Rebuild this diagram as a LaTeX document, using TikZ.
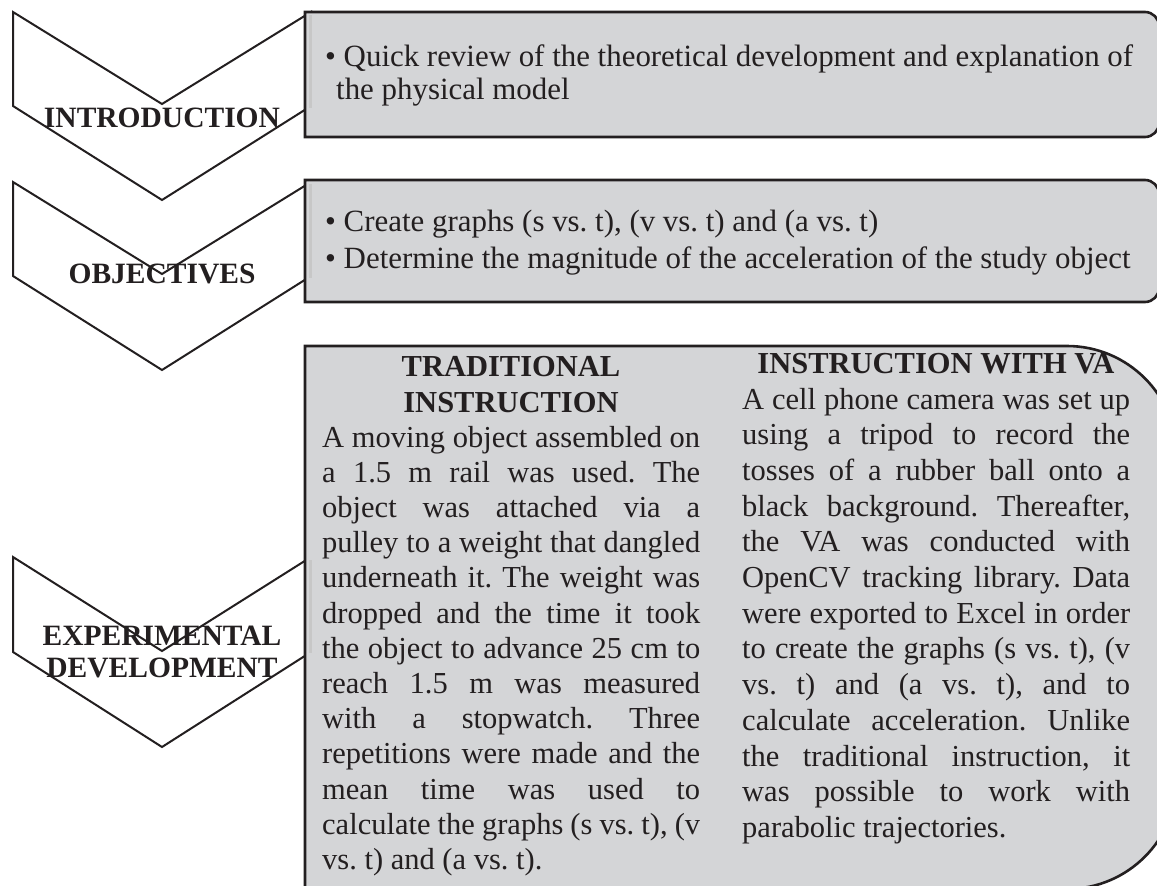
\documentclass[tikz,border=0pt]{standalone}
\usepackage{fontspec}
\setmainfont{Liberation Serif}
\definecolor{boxgray}{RGB}{212,213,215}
\definecolor{ink}{RGB}{35,31,32}
\newcommand{\justline}[2]{\makebox[#1][s]{#2}}
\tikzset{
  chev/.style={draw=ink, line width=2pt, fill=white, line join=miter},
  panel/.style={draw=ink, line width=2.6pt, fill=boxgray},
  shadeline/.style={draw=black!22, line width=2.5pt},
  lbl/.style={font=\fontsize{29.5}{32}\selectfont\bfseries, text=ink, inner sep=0pt, anchor=base},
  bodytxt/.style={font=\fontsize{30.9}{35}\selectfont, text=ink, inner sep=0pt, anchor=base west},
  colhead/.style={font=\fontsize{30.5}{36}\selectfont\bfseries, text=ink, inner sep=0pt, anchor=base},
  coltxt/.style={font=\fontsize{30.5}{35.4}\selectfont, text=ink, inner sep=0pt, anchor=base west},
}
\begin{document}
\begin{tikzpicture}[x=1pt,y=-1pt]
\useasboundingbox (0,0) rectangle (1157,886);
\frenchspacing
% chevrons
\draw[chev] (13,12) -- (162,104) -- (311,12) -- (311,106) -- (162,200) -- (13,106) -- cycle;
\draw[chev] (13,182) -- (162,274) -- (311,182) -- (311,276) -- (162,370) -- (13,276) -- cycle;
\draw[chev] (13,557) -- (162,651) -- (311,557) -- (311,652) -- (162,747) -- (13,652) -- cycle;
% boxes
\draw[panel] (305,137) -- (305,12) -- (1145,12) .. controls (1152.7,12) and (1159,18.3) .. (1159,26)
  -- (1159,123) .. controls (1159,130.7) and (1152.7,137) .. (1145,137) -- cycle;
\draw[panel] (305,302) -- (305,180) -- (1145,180) .. controls (1152.7,180) and (1159,186.3) .. (1159,194)
  -- (1159,288) .. controls (1159,295.7) and (1152.7,302) .. (1145,302) -- cycle;
\draw[panel] (305,889) -- (305,346) -- (1067,346) .. controls (1127.75,346) and (1177,395.25) .. (1177,456)
  -- (1177,779) .. controls (1177,839.75) and (1127.75,889) .. (1067,889) -- cycle;
% faint shadow edges
\draw[shadeline] (310.5,15) -- (310.5,108);
\draw[shadeline] (310.5,184) -- (310.5,278);
\draw[shadeline] (310.5,560) -- (310.5,653);
% chevron labels
\node[lbl] (lintro) at (162,127) {INTRODUCTION};
\node[lbl] (lobj) at (162,283) {OBJECTIVES};
\node[lbl] (lexp1) at (162,645) {EXPERIMENTAL};
\node[lbl] (lexp2) at (162,677) {DEVELOPMENT};
% box 1 and 2 text
\node[bodytxt] (t1a) at (325,66.7) {• Quick review of the theoretical development and explanation of};
\node[bodytxt] (t1b) at (336,99.3) {the physical model};
\node[bodytxt] (t2a) at (325,231.7) {• Create graphs (s vs. t), (v vs. t) and (a vs. t)};
\node[bodytxt] (t2b) at (325,268.3) {• Determine the magnitude of the acceleration of the study object};
% box 3 headings
\node[colhead] (h1a) at (511,376) {TRADITIONAL};
\node[colhead] (h1b) at (511,412) {INSTRUCTION};
\node[colhead] (h2) at (936,373) {INSTRUCTION WITH VA};
% box 3 columns
\node[coltxt] (c1) at (322,447) {\parbox[t]{378pt}{\fontsize{30.5}{35.2}\selectfont\frenchspacing%
\justline{378pt}{A moving object assembled on}\\%
\justline{378pt}{a 1.5 m rail was used. The}\\%
\justline{378pt}{object was attached via a}\\%
\justline{378pt}{pulley to a weight that dangled}\\%
\justline{378pt}{underneath it. The weight was}\\%
\justline{378pt}{dropped and the time it took}\\%
\justline{378pt}{the object to advance 25 cm to}\\%
\justline{378pt}{reach 1.5 m was measured}\\%
\justline{378pt}{with a stopwatch. Three}\\%
\justline{378pt}{repetitions were made and the}\\%
\justline{378pt}{mean time was used to}\\%
\justline{378pt}{calculate the graphs (s vs. t), (v}\\%
vs. t) and (a vs. t).}};
\node[coltxt] (c2) at (742,409) {\parbox[t]{388pt}{\fontsize{30.5}{35.7}\selectfont\frenchspacing%
\justline{388pt}{A cell phone camera was set up}\\%
\justline{388pt}{using a tripod to record the}\\%
\justline{388pt}{tosses of a rubber ball onto a}\\%
\justline{388pt}{black background. Thereafter,}\\%
\justline{388pt}{the VA was conducted with}\\%
\justline{388pt}{OpenCV tracking library. Data}\\%
\justline{388pt}{were exported to Excel in order}\\%
\justline{388pt}{to create the graphs (s vs. t), (v}\\%
\justline{388pt}{vs. t) and (a vs. t), and to}\\%
\justline{388pt}{calculate acceleration. Unlike}\\%
\justline{388pt}{the traditional instruction, it}\\%
\justline{388pt}{was possible to work with}\\%
parabolic trajectories.}};
\end{tikzpicture}
\end{document}
